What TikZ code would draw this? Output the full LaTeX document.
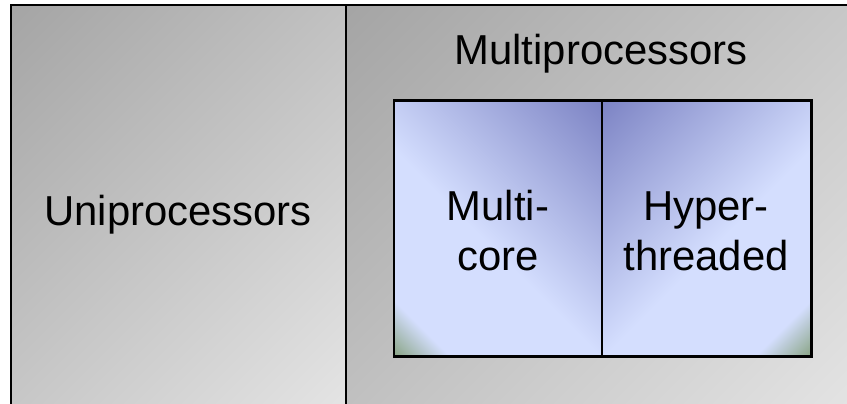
\documentclass[tikz,border=0pt]{standalone}
\usepackage{fontspec}
\setmainfont{Liberation Sans}
\definecolor{gdark}{HTML}{A5A5A5}
\definecolor{glight}{HTML}{E4E4E4}
\definecolor{bdark}{HTML}{7C83C4}
\definecolor{blight}{HTML}{D4DEFE}
\definecolor{bgreen}{HTML}{8AA586}
\pgfdeclarehorizontalshading{graydiag}{100bp}{color(0bp)=(gdark); color(15bp)=(gdark); color(85bp)=(glight); color(100bp)=(glight)}
\pgfdeclarehorizontalshading{bluediag}{100bp}{color(0bp)=(bgreen); color(14.6bp)=(bgreen); color(23bp)=(blight); color(46bp)=(blight); color(85.4bp)=(bdark); color(100bp)=(bdark)}
\tikzset{
  panel/.style={shading=graydiag, shading angle=-45, draw=black, line width=2pt},
  cellbox/.style={shading=bluediag, draw=black, line width=2.5pt},
  lbl/.style={font=\fontsize{42}{50}\selectfont, align=center, text=black, inner sep=0pt},
}
\begin{document}
\begin{tikzpicture}[x=1bp,y=-1bp]
\useasboundingbox (0,0) rectangle (847,403);
\fill[white] (0,0) rectangle (847,403);
\begin{scope}
\clip (0,0) rectangle (847,403);
\path[panel] (11,5) rectangle (346,412);
\path[panel] (346,5) rectangle (862,412);
\draw[line width=3pt] (11,412) -- (11,5) -- (862,5);
\path[cellbox, shading angle=45] (394,100) rectangle (602,356);
\path[cellbox, shading angle=135] (602,100) rectangle (811,356);
\draw[line width=3pt] (394,100) rectangle (811,356);
\end{scope}
\node[lbl, anchor=base] (uni) at (178,225) {Uniprocessors};
\node[lbl, anchor=base] (multi) at (601,64) {Multiprocessors};
\node[lbl, anchor=base] (mc) at (498,220) {Multi-};
\node[lbl, anchor=base] (mc2) at (498,270) {core};
\node[lbl, anchor=base] (ht) at (706,220) {Hyper-};
\node[lbl, anchor=base] (ht2) at (706,270) {threaded};
\end{tikzpicture}
\end{document}
